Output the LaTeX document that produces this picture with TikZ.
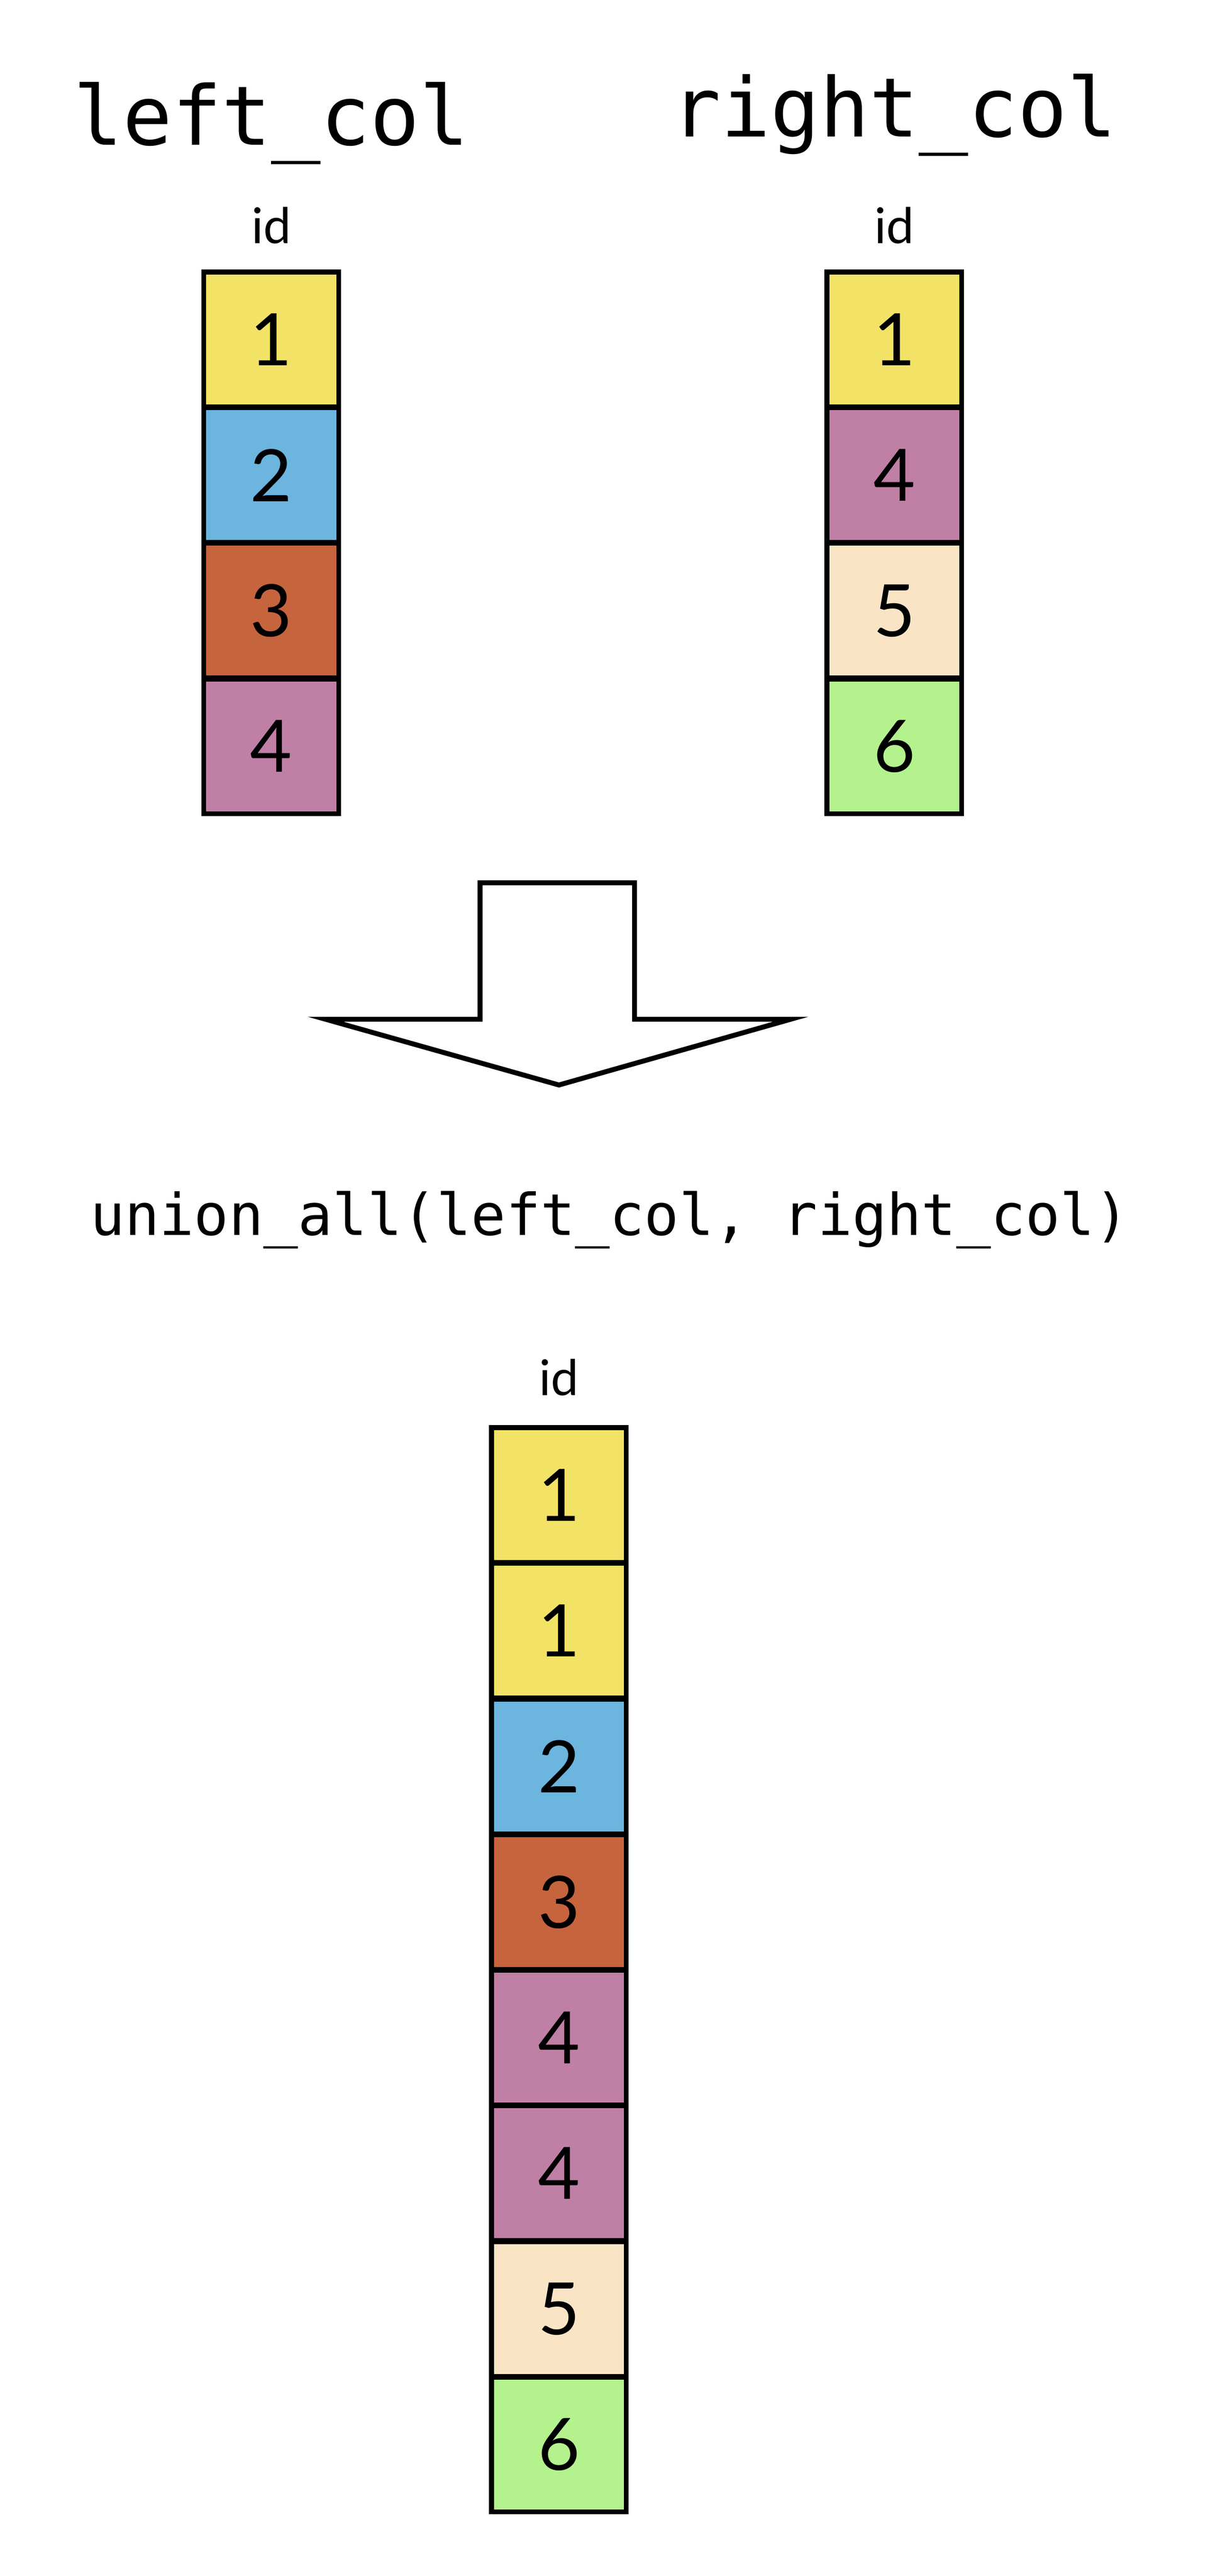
\documentclass[tikz,border=0pt]{standalone}
\usepackage{fontspec}
\setmainfont{Lato}
\newfontfamily\codefont{DejaVu Sans Mono}
\definecolor{cyel}{HTML}{F2E266}
\definecolor{cblu}{HTML}{6BB5DE}
\definecolor{cora}{HTML}{C6643E}
\definecolor{cpur}{HTML}{C080A6}
\definecolor{cpea}{HTML}{F9E5C6}
\definecolor{cgre}{HTML}{B4F28E}
\begin{document}
\begin{tikzpicture}[x=1pt,y=-1pt,
  cell/.style={draw=black,line width=3pt,minimum width=82pt,minimum height=82pt,inner sep=0pt,font=\fontsize{44}{48}\selectfont},
  hdr/.style={font=\fontsize{30}{34}\selectfont},
  title/.style={font=\codefont\fontsize{50}{56}\selectfont},
  code/.style={font=\codefont\fontsize{35}{40}\selectfont}]
\useasboundingbox (0,0) rectangle (742,1567);
\node[title] (lt) at (165,75) {left\_col};
\node[title] (rt) at (544,70) {right\_col};
\node[hdr] (lid) at (165,137) {id};
\node[hdr] (rid) at (544,137) {id};
\foreach \v/\c [count=\i from 0] in {1/cyel,2/cblu,3/cora,4/cpur}
  \node[cell,fill=\c] (l\i) at (165,206.5+82.5*\i) {\v};
\foreach \v/\c [count=\i from 0] in {1/cyel,4/cpur,5/cpea,6/cgre}
  \node[cell,fill=\c] (r\i) at (544,206.5+82.5*\i) {\v};
\draw[line width=3pt,line join=miter] (292,537) -- (386,537) -- (386,620) -- (481,620) -- (340,660) -- (198,620) -- (292,620) -- cycle;
\node[code] (u) at (371,742) {union\_all(left\_col, right\_col)};
\node[hdr] (bid) at (340,838) {id};
\foreach \v/\c [count=\i from 0] in {1/cyel,1/cyel,2/cblu,3/cora,4/cpur,4/cpur,5/cpea,6/cgre}
  \node[cell,fill=\c] (b\i) at (340,909.5+82.5*\i) {\v};
\end{tikzpicture}
\end{document}
